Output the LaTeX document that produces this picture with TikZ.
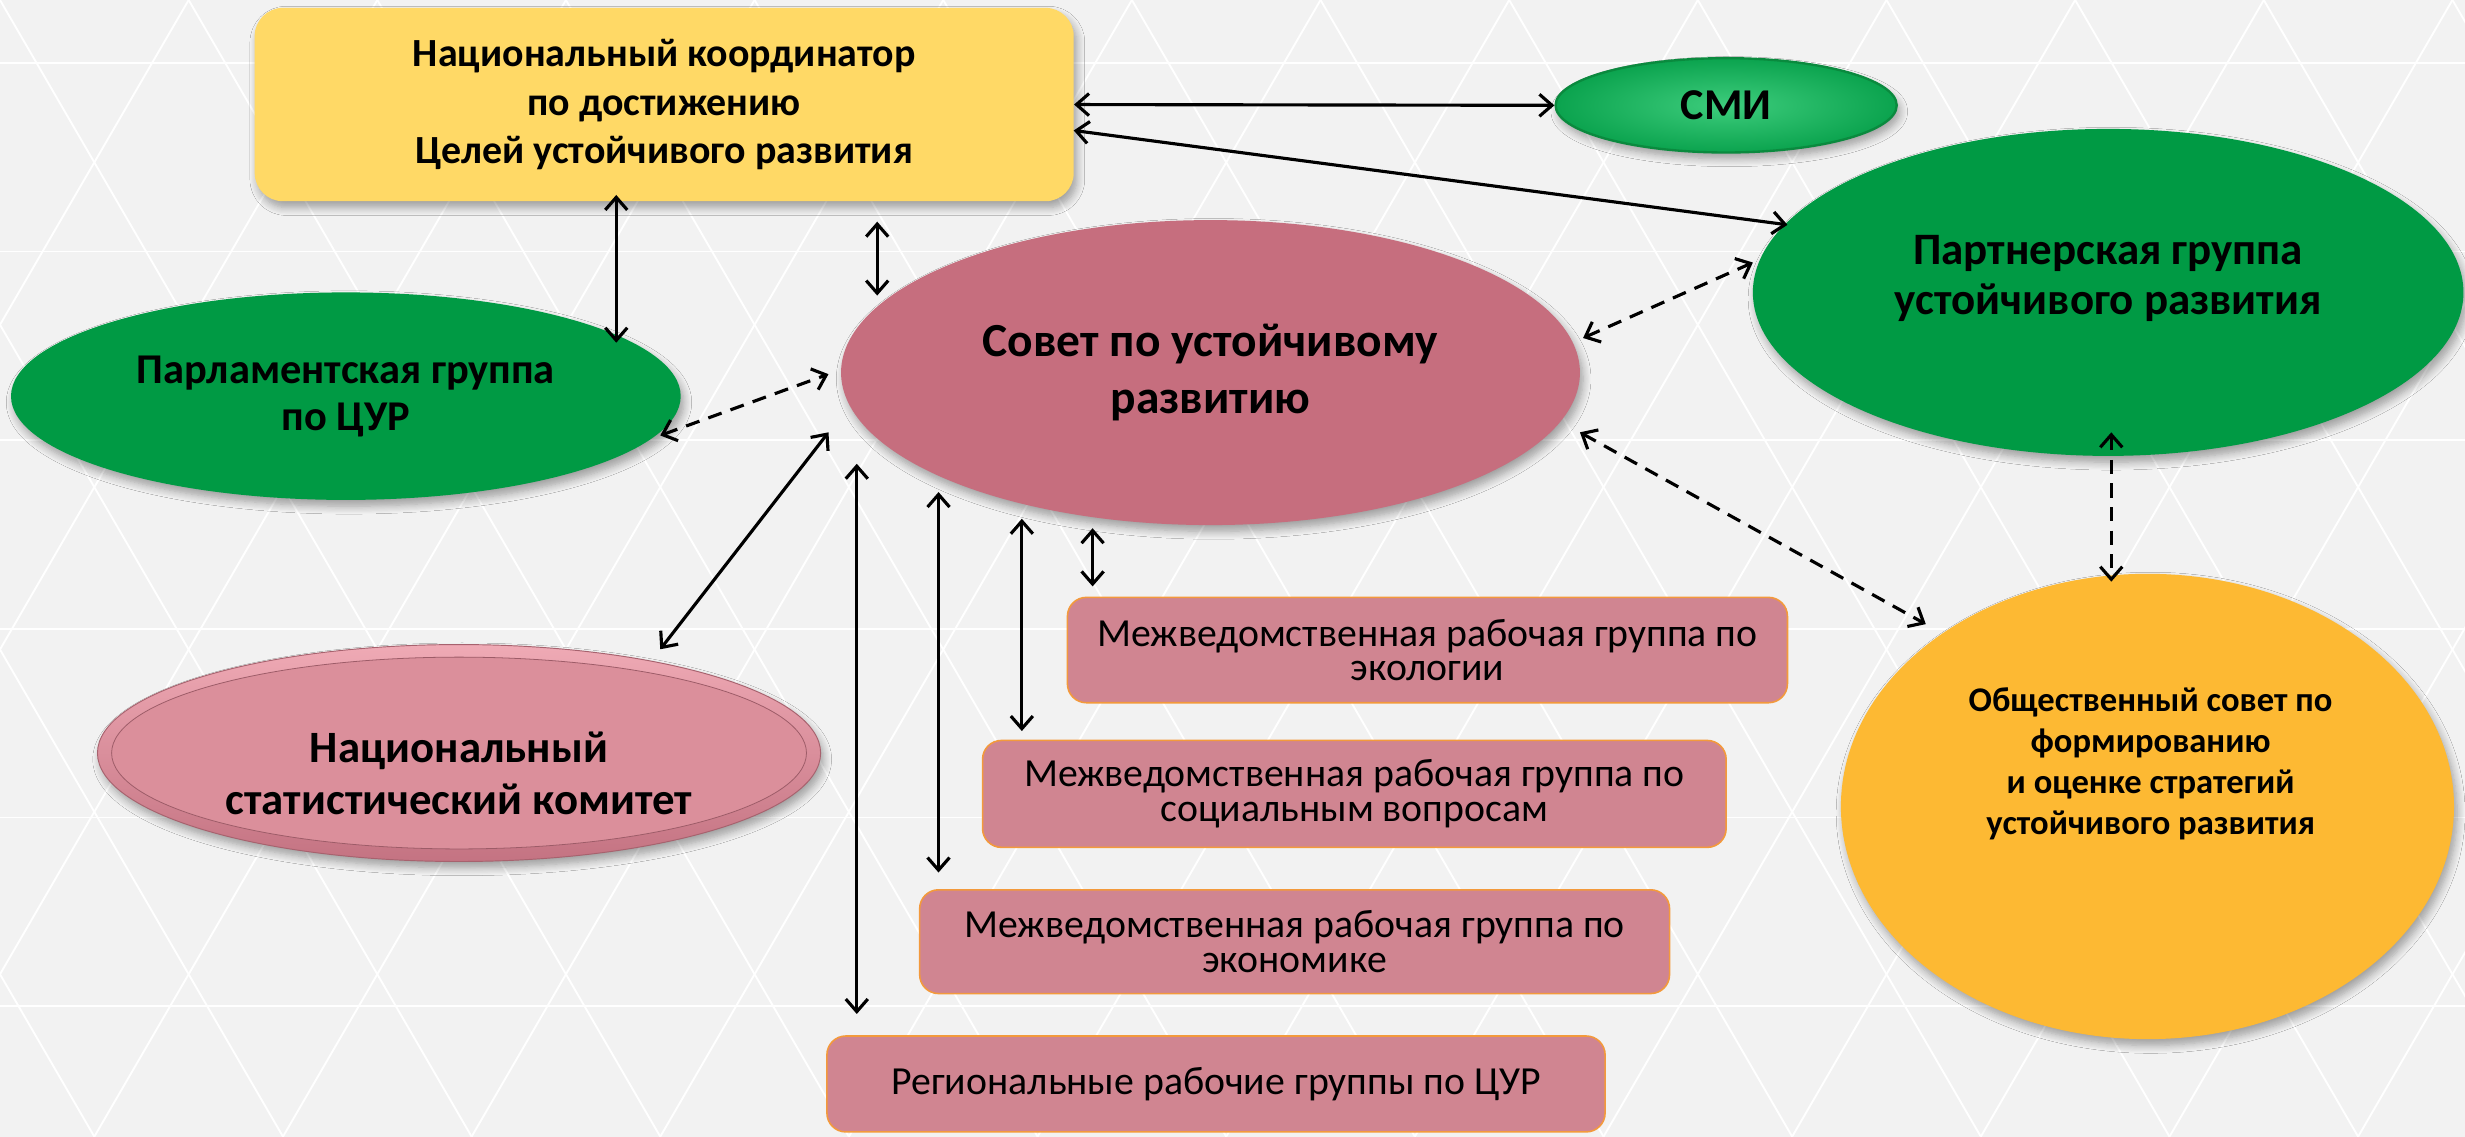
\documentclass[tikz,border=0pt]{standalone}
\usepackage{fontspec}
\setmainfont{Carlito}
\usetikzlibrary{shapes.geometric,shadows.blur,arrows.meta,calc}
\definecolor{bgc}{HTML}{F2F2F2}
\definecolor{yel}{HTML}{FFD966}
\definecolor{gdark}{HTML}{009A44}
\definecolor{glight}{HTML}{0DC05C}
\definecolor{grim}{HTML}{0A8A3E}
\definecolor{sovetc}{HTML}{C66E7E}
\definecolor{statc}{HTML}{DB8F9B}
\definecolor{stattop}{HTML}{EFAAB5}
\definecolor{statbot}{HTML}{C47382}
\definecolor{orng}{HTML}{FDB933}
\definecolor{boxc}{HTML}{D08591}
\definecolor{boxrim}{HTML}{F39A3C}
\tikzset{
  shad/.style={blur shadow={shadow xshift=2pt,shadow yshift=-4pt,shadow blur steps=8,shadow opacity=35,shadow blur radius=5pt}},
  ell/.style={ellipse,inner sep=0pt,align=center,shad},
  txt/.style={inner sep=0pt,align=center},
  wgbox/.style={rectangle,rounded corners=12pt,fill=boxc,draw=boxrim,line width=1pt,inner sep=0pt,align=center,
     font=\fontsize{25.3}{22}\selectfont},
  link/.style={line width=2pt,{Straight Barb[length=8pt,width=14pt]}-{Straight Barb[length=8pt,width=14pt]}},
  dlink/.style={link,dash pattern=on 9pt off 6pt},
}
\begin{document}
\begin{tikzpicture}[x=1pt,y=-1pt]
\useasboundingbox (0,0) rectangle (1568,723);
\fill[bgc] (0,0) rectangle (1568,723);
\begin{scope}
\clip (0,0) rectangle (1568,723);
\foreach \i in {-8,...,16} {
  \draw[white,line width=1.2pt] (\i*120,0) -- ++(420,723);
  \draw[white,line width=1.2pt] (\i*120,0) -- ++(-420,723);
}
\foreach \j in {0,...,6} {
  \draw[white,line width=1.2pt] (0,\j*120+40) -- (1568,\j*120+40);
}
\end{scope}

% nodes
\node[rectangle,rounded corners=18pt,fill=yel,minimum width=521pt,minimum height=123pt,inner sep=0pt,align=center,shad,
      font=\bfseries\fontsize{25.4}{31}\selectfont] (nk) at (422.5,66.5)
      {Национальный координатор\\по достижению\\Целей устойчивого развития};
\node[ell,minimum width=217pt,minimum height=60pt,inner color=glight!80!white,outer color=glight!85!black,draw=grim,line width=1.5pt,
      font=\bfseries\fontsize{28}{30}\selectfont] (smi) at (1098,67) {СМИ};
\node[ell,minimum width=452pt,minimum height=208pt,fill=gdark] (partner) at (1341,186) {};
\node[txt,font=\bfseries\fontsize{28.6}{32}\selectfont] (partnerT) at ($(partner)+(0,-9)$) {Партнерская группа\\устойчивого развития};
\node[ell,minimum width=470pt,minimum height=194pt,fill=sovetc,
      font=\bfseries\fontsize{30.2}{36.5}\selectfont] (sovet) at (770,237) {Совет по устойчивому\\развитию};
\node[ell,minimum width=426pt,minimum height=132pt,fill=gdark,
      font=\bfseries\fontsize{27}{30}\selectfont] (parl) at (220,252) {Парламентская группа\\по ЦУР};
\node[ell,minimum width=460pt,minimum height=138pt,top color=stattop,bottom color=statbot,draw=statbot!85!black,line width=0.6pt,
      path picture={\fill[statc,draw=statbot!80!black,line width=0.5pt] (path picture bounding box.center) ellipse (221 and 61);}] (stat) at (292,479) {};
\node[txt,font=\bfseries\fontsize{28.5}{33}\selectfont] (statT) at ($(stat)+(0,13)$) {Национальный\\статистический комитет};
\node[ell,minimum width=390pt,minimum height=296pt,fill=orng] (obsh) at (1366,513) {};
\node[txt,font=\bfseries\fontsize{22}{26}\selectfont] (obshT) at ($(obsh)+(2,-27)$)
      {Общественный совет по\\формированию\\и оценке стратегий\\устойчивого развития};
\node[wgbox,minimum width=458pt,minimum height=67pt] (eco) at (908,413.5) {Межведомственная рабочая группа по\\экологии};
\node[wgbox,minimum width=473pt,minimum height=68pt] (soc) at (861.5,505) {Межведомственная рабочая группа по\\социальным вопросам};
\node[wgbox,minimum width=477pt,minimum height=66pt] (econ) at (823.5,599) {Межведомственная рабочая группа по\\экономике};
\node[wgbox,minimum width=495pt,minimum height=61pt] (reg) at (773.5,689.5) {Региональные рабочие группы по ЦУР};

% solid connectors
\draw[link] (nk.east) -- (smi.west);
\draw[link] ($(nk)+(260.5,16.5)$) -- ($(partner)+(-204,-43)$);
\draw[link] ($(nk)+(-30.5,57.5)$) -- ($(parl)+(172,-34)$);
\draw[link] ($(nk)+(135.5,74.5)$) -- ($(sovet)+(-212,-49)$);
\draw[link] ($(sovet)+(-243,38)$) -- ($(stat)+(128,-66)$);
\draw[link] ($(sovet)+(-225,58)$) -- ($(reg)+(-228.5,-44.5)$);
\draw[link] ($(sovet)+(-173,76)$) -- ($(econ)+(-226.5,-44)$);
\draw[link] ($(sovet)+(-120,93)$) -- ($(soc)+(-211.5,-40)$);
\draw[link] ($(sovet)+(-75,99)$) -- ($(eco)+(-213,-40.5)$);

% dashed connectors
\draw[dlink] ($(parl)+(200,25)$) -- ($(sovet)+(-243,1)$);
\draw[dlink] ($(sovet)+(237,-22)$) -- ($(partner)+(-226,-19)$);
\draw[dlink] ($(sovet)+(235,38)$) -- ($(obsh)+(-141,-116)$);
\draw[dlink] ($(partner)+(2,89)$) -- ($(obsh)+(-23,-143)$);
\end{tikzpicture}
\end{document}
